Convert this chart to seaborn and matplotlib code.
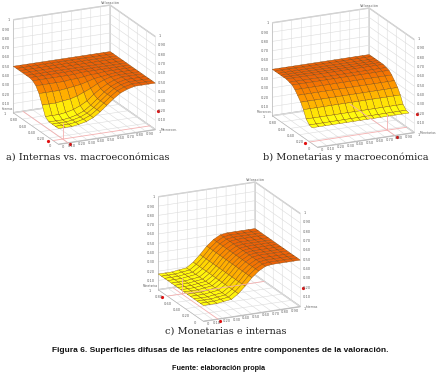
import numpy as np
import matplotlib
matplotlib.use("Agg")
import matplotlib.pyplot as plt
from mpl_toolkits.mplot3d import proj3d
import seaborn as sns

sns.set_theme(style="white")

grid = [0, 0.07, 0.14, 0.21, 0.29, 0.36, 0.43, 0.5, 0.57, 0.64, 0.71, 0.79, 0.86, 0.93, 1]
grid_b = [0.12, 0.18, 0.25, 0.31, 0.37, 0.44, 0.5, 0.56, 0.62, 0.69, 0.75, 0.81, 0.87, 0.94, 1]
x_ticks = [0, 0.1, 0.2, 0.3, 0.4, 0.5, 0.6, 0.7, 0.8, 0.9, 1]
y_ticks = [0, 0.2, 0.4, 0.6, 0.8, 1]
z_ticks = x_ticks

# values, rows run along y, columns along x
surface_a = [
    [.17, .17, .17, .18, .20, .23, .28, .34, .40, .45, .48, .50, .50, .50, .50],
    [.17, .17, .17, .18, .20, .23, .28, .34, .40, .45, .48, .50, .50, .50, .50],
    [.17, .17, .17, .18, .20, .23, .28, .34, .40, .45, .48, .50, .50, .50, .50],
    [.17, .17, .17, .18, .20, .23, .28, .34, .40, .45, .48, .50, .50, .50, .50],
    [.20, .20, .20, .21, .23, .26, .30, .36, .41, .45, .48, .50, .50, .50, .50],
    [.30, .30, .30, .31, .32, .34, .37, .40, .44, .47, .49, .50, .50, .50, .50],
    [.40, .40, .40, .40, .41, .42, .43, .45, .47, .48, .49, .50, .50, .50, .50],
    [.46, .46, .46, .46, .46, .47, .47, .48, .49, .49, .50, .50, .50, .50, .50],
    [.49, .49, .49, .49, .49, .49, .49, .50, .50, .50, .50, .50, .50, .50, .50],
    [.50, .50, .50, .50, .50, .50, .50, .50, .50, .50, .50, .50, .50, .50, .50],
    [.50, .50, .50, .50, .50, .50, .50, .50, .50, .50, .50, .50, .50, .50, .50],
    [.50, .50, .50, .50, .50, .50, .50, .50, .50, .50, .50, .50, .50, .50, .50],
    [.50, .50, .50, .50, .50, .50, .50, .50, .50, .50, .50, .50, .50, .50, .50],
    [.50, .50, .50, .50, .50, .50, .50, .50, .50, .50, .50, .50, .50, .50, .50],
    [.50, .50, .50, .50, .50, .50, .50, .50, .50, .50, .50, .50, .50, .50, .50],
]
# panel b only changes along y, panel c only along x
profile_b = [.17, .18, .22, .30, .36, .41, .45, .48, .49, .50, .50, .50, .50, .50, .50]
profile_c = [.17, .17, .17, .18, .19, .24, .31, .39, .45, .49, .50, .50, .50, .50, .50]

cmap = sns.blend_palette(["#ffff10", "#ffd000", "#ffa000", "#f88000", "#ec6008"], as_cmap=True)
W, H = 439, 378


def draw_panel(rect, z, marks, y_grid=grid):
    x0, y0, z0 = marks
    ax = fig.add_axes(rect, projection="3d")
    ax.set_proj_type("ortho")
    ax.view_init(elev=19, azim=-115)
    ax.set_box_aspect((1, 1, 0.92), zoom=1.03)
    ax.patch.set_alpha(0)
    X, Y = np.meshgrid(grid, y_grid)
    z = np.array(z)
    ax.plot_surface(X, Y, z, facecolors=cmap((z - 0.17) / 0.33), edgecolor="#7a4408", linewidth=0.25, shade=False)

    ax.set_xlim(0, 1)
    ax.set_ylim(0, 1)
    ax.set_zlim(0, 1)
    ax.set_xticks(x_ticks)
    ax.set_yticks(y_ticks)
    ax.set_zticks(z_ticks)
    ax.set_xticklabels([])
    ax.set_yticklabels([])
    ax.set_zticklabels([])
    for axis in (ax.xaxis, ax.yaxis, ax.zaxis):
        axis.set_pane_color((1, 1, 1, 1))
        axis.pane.set_edgecolor("#c8c8c8")
        axis.line.set_color("#b0b0b0")
        axis.line.set_linewidth(0.4)
        axis._axinfo["grid"]["color"] = "#dcdcdc"
        axis._axinfo["grid"]["linewidth"] = 0.4
        axis._axinfo["tick"]["inward_factor"] = 0
        axis._axinfo["tick"]["outward_factor"] = 0

    # red slider guides on the floor
    ax.plot([0, 1], [y0, y0], [0, 0], color="#f4b0b0", lw=0.6)
    ax.plot([x0, x0], [0, 1], [0, 0], color="#f4b0b0", lw=0.6)
    ax.plot([x0, x0], [y0, y0], [0, 0.17], color="#f4b0b0", lw=0.6)
    ax.plot([x0], [-0.05], [0], "o", color="#e01010", ms=1.3)
    ax.plot([-0.05], [y0], [0], "o", color="#e01010", ms=1.3)
    ax.plot([1.03], [0], [z0], "o", color="#e01010", ms=1.3)
    return ax


def put_label(ax, x, y, z, s, ha="center", size=2.6):
    # 3d point to figure position, so the label is plain figure text
    px, py, _ = proj3d.proj_transform(x, y, z, ax.get_proj())
    dx, dy = ax.transData.transform((px, py))
    fig.text(dx / W, dy / H, s, fontsize=size, color="#666666", ha=ha, va="center")


def tick_text(v):
    return str(v) if v in (0, 1) else f"{v:.2f}"


def label_panel(ax, labels):
    for t in x_ticks:
        put_label(ax, t, -0.09, 0, tick_text(t))
    for t in y_ticks:
        put_label(ax, -0.09, t, 0, tick_text(t))
    for t in z_ticks[1:]:
        put_label(ax, -0.03, 1, t, tick_text(t), ha="right")
    for t in z_ticks[1:]:
        put_label(ax, 1.03, 0, t, tick_text(t), ha="left")
    put_label(ax, 1, 1, 1.025, "Valoración")
    put_label(ax, 0, 1, 0.045, labels[0], ha="right", size=2.0)
    put_label(ax, 1.05, -0.02, 0, labels[1], ha="left", size=2.2)


fig = plt.figure(figsize=(4.39, 3.78), dpi=100)

ax_a = draw_panel([-13 / W, 1 - 162 / H, 190 / W, 170 / H], surface_a, (0.1, 0.12, 0.2))
ax_b = draw_panel([246 / W, 1 - 165 / H, 190 / W, 170 / H], np.tile(np.array(profile_b)[:, None], (1, 15)), (0.8, 0.17, 0.2), grid_b)
ax_c = draw_panel([132 / W, 1 - 339 / H, 190 / W, 170 / H], np.tile(profile_c, (15, 1)), (0.15, 0.8, 0.2))

fig.canvas.draw()
label_panel(ax_a, ("Internas", "Macroecon."))
label_panel(ax_b, ("Macroecon.", "Monetarias"))
label_panel(ax_c, ("Monetarias", "Internas"))

serif = dict(family="DejaVu Serif", fontsize=7.0, color="#222222", va="center")
fig.text(88 / W, 1 - 157 / H, "a) Internas vs. macroeconómicas", ha="center", **serif)
fig.text(346 / W, 1 - 157 / H, "b) Monetarias y macroeconómica", ha="center", **serif)
fig.text(226 / W, 1 - 331 / H, "c) Monetarias e internas", ha="center", **serif)
fig.text(220 / W, 1 - 351 / H, "Figura 6. Superficies difusas de las relaciones entre componentes de la valoración.",
         ha="center", va="center", family="Liberation Sans", fontsize=6.0, fontweight="bold", color="#111111")
fig.text(219 / W, 1 - 368 / H, "Fuente: elaboración propia", ha="center", va="center", family="Liberation Sans",
         fontsize=5.2, fontweight="bold", color="#111111")

fig.savefig("out.png", dpi=100)
